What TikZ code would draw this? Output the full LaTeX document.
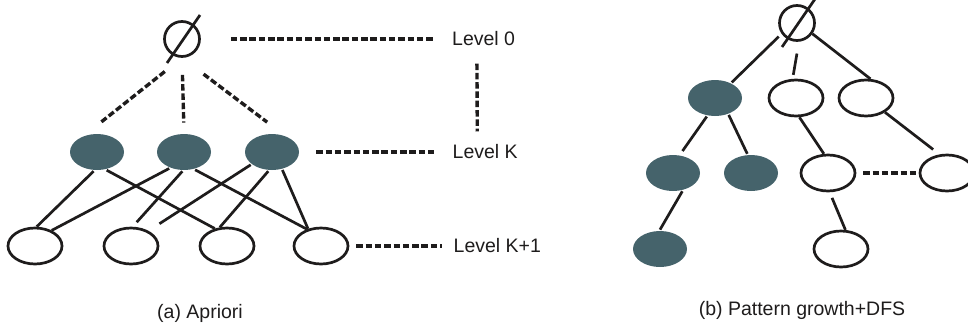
\documentclass[tikz,border=0pt]{standalone}
\usepackage{fontspec}
\setmainfont{Liberation Sans}
\usetikzlibrary{shapes.geometric}
\usetikzlibrary{positioning}
\definecolor{darkslate}{RGB}{69,99,107}
\definecolor{inkline}{RGB}{30,28,28}

\begin{document}
\begin{tikzpicture}[x=1pt,y=1pt,line width=2.7pt,draw=inkline,
	full node/.style={ellipse,fill=darkslate,minimum width=54pt,minimum height=36pt,inner sep=0pt},
	empty node/.style={ellipse,draw=inkline,minimum width=54pt,minimum height=36pt,inner sep=0pt},
	set node/.style={circle,draw=inkline,minimum size=35pt,inner sep=0pt},
	level line/.style={line width=3.4pt,dash pattern=on 6.5pt off 2.8pt},
	level text/.style={font=\fontsize{19.5}{23}\selectfont,inner sep=0pt,text=inkline}]
	\useasboundingbox (0,0) rectangle (968,333);
	
	% (a) Apriori
	\node[set node] (e0) at (182,294) {};
	\draw ([shift={(18,24)}]e0.center) -- ([shift={(-15,-24)}]e0.center);
	\node[full node] (k1) at (97,181) {};
	\node[full node,node distance=87pt] (k2) [right of=k1] {};
	\node[full node,node distance=88pt] (k3) [right of=k2] {};
	\node[empty node] (b1) at (35,87) {};
	\node[empty node,node distance=96pt] (b2) [right of=b1] {};
	\node[empty node,node distance=96pt] (b3) [right of=b2] {};
	\node[empty node,node distance=94pt] (b4) [right of=b3] {};
	
	\node[level text,right=250pt of e0] (l0) {Level 0};
	\node[level text,right=151pt of k3] (lk) {Level K};
	\node[level text,right=103pt of b4] (lk1) {Level K+1};
	
	\path[level line]
	(e0.south) edge [shorten <=22pt,shorten >=19pt] (k1.122)
	(e0.south) edge [shorten <=17pt,shorten >=10pt] (k2.north)
	(e0.south) edge [shorten <=27pt,shorten >=20pt] (k3.58)
	(e0.east) edge [shorten <=30pt,shorten >=18pt] (l0.west)
	(k3.east) edge [shorten <=16pt,shorten >=15pt] (lk.west)
	(b4.east) edge [shorten <=7pt,shorten >=10pt] (lk1.west)
	([xshift=26pt]l0.south west) edge [shorten <=16pt,shorten >=12pt] ([xshift=26pt]lk.north west);
	
	\path
	(k1.-100) edge (b1.85)
	(k1.-62) edge (b3.125)
	(k2.-132) edge (b1.43)
	(k2.-95) edge [shorten >=6pt] (b2.85)
	(k2.-58) edge (b4.130)
	(k3.-149) edge [shorten >=13pt] (b2.41)
	(k3.-101) edge (b3.111)
	(k3.-60) edge (b4.127);
	
	\node[level text] (capa) at (200,20) {(a) Apriori};
	
	% (b) Pattern growth+DFS
	\node[set node] (r0) at (797,310) {};
	\draw ([shift={(18,24)}]r0.center) -- ([shift={(-15,-24)}]r0.center);
	\node[full node] (a) at (715,235) {};
	\node[empty node,node distance=81pt] (b) [right of=a] {};
	\node[empty node,node distance=70pt] (c) [right of=b] {};
	\node[full node] (d) at (673,160) {};
	\node[full node,node distance=78pt] (e) [right of=d] {};
	\node[empty node,node distance=77pt] (f) [right of=e] {};
	\node[empty node,node distance=119pt] (g) [right of=f] {};
	\node[full node] (h) at (660,84) {};
	\node[empty node,node distance=181pt] (i) [right of=h] {};
	
	\path
	(r0.215) edge [shorten <=4pt] (a.43)
	(r0.-84) edge [shorten <=12pt,shorten >=4pt] (b.100)
	(r0.-35) edge (c.77)
	(a.-114) edge [shorten >=4pt] (d.69)
	(a.-51) edge (e.101)
	(b.-80) edge (f.102)
	(c.-37) edge [shorten >=8pt] (g.112)
	(d.-63) edge (h.90)
	(f.-85) edge [shorten <=6pt] (i.77);
	\draw[level line,shorten <=7pt] (f.east) -- (g.west);
	
	\node[level text] (capb) at (802,23) {(b) Pattern growth+DFS};
\end{tikzpicture}
\end{document}
